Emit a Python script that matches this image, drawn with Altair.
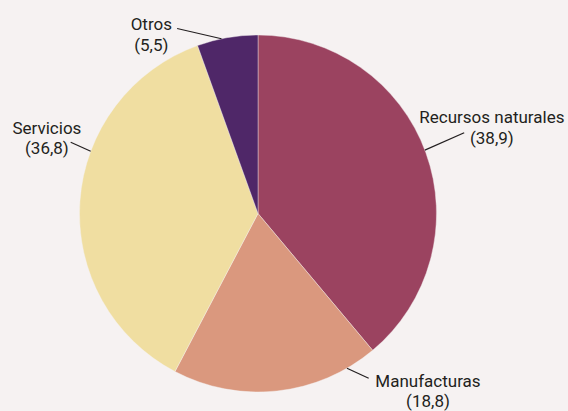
import altair as alt
import pandas as pd
import math
from altair.utils.html import TEMPLATES

# ---- data ----
categories = ["Recursos naturales", "Manufacturas", "Servicios", "Otros"]
shares = [38.9, 18.8, 36.8, 5.5]
share_labels = ["(38,9)", "(18,8)", "(36,8)", "(5,5)"]
colors = ["#9b4360", "#da987e", "#f0dea1", "#4f2768"]
BG = "#f6f2f2"

# ---- layout (annotation placement, not data) ----
W, H = 568, 411
CX, CY, R = 258, 213.5, 178.5          # pie centre and radius in px
leader_deg = [69.2, 150.1, 290.4, 348.2]   # where each leader touches the rim
leader_dx = [39.3, 21.7, -20.0, -44.4]     # leader length/direction, px
leader_dy = [-17.3, 10.0, -9.0, -10.3]
text_dx = [27.7, 59.3, -23.8, -25.8]       # label centre from leader end, px
text_dy = [-9.7, 8.3, -8.4, 1.7]

pie_df = pd.DataFrame({"cat": categories, "value": shares,
                       "idx": list(range(len(categories)))})

rows = []
for i, c in enumerate(categories):
    a = math.radians(leader_deg[i])
    x0, y0 = math.sin(a), math.cos(a)
    x1, y1 = x0 + leader_dx[i] / R, y0 - leader_dy[i] / R
    tx, ty = x1 + text_dx[i] / R, y1 - text_dy[i] / R
    rows.append({"cat": c, "x0": x0, "y0": y0, "x1": x1, "y1": y1,
                 "tx": tx, "ty": ty, "label": c + "\n" + share_labels[i]})
lab_df = pd.DataFrame(rows)

xs = alt.Scale(domain=[-CX / R, (W - CX) / R], nice=False, zero=False)
ys = alt.Scale(domain=[-(H - CY) / R, CY / R], nice=False, zero=False)

FONT = "Roboto, Liberation Sans, sans-serif"

pie = alt.Chart(pie_df).mark_arc(radius=R, stroke=BG, strokeWidth=0.4).encode(
    theta=alt.Theta("value:Q", stack=True),
    order=alt.Order("idx:Q"),
    color=alt.Color("cat:N", scale=alt.Scale(domain=categories, range=colors), legend=None),
    x=alt.value(CX),
    y=alt.value(CY),
)

leaders = alt.Chart(lab_df).mark_rule(color="#231f20", strokeWidth=1.2).encode(
    x=alt.X("x0:Q", scale=xs, axis=None),
    y=alt.Y("y0:Q", scale=ys, axis=None),
    x2="x1:Q",
    y2="y1:Q",
)

labels = alt.Chart(lab_df).mark_text(
    font=FONT, fontSize=17, lineHeight=20.4, lineBreak="\n",
    align="center", baseline="alphabetic", color="#231f20",
).encode(
    x=alt.X("tx:Q", scale=xs, axis=None),
    y=alt.Y("ty:Q", scale=ys, axis=None),
    text="label:N",
)

chart = alt.layer(pie, leaders, labels).properties(
    width=W, height=H, padding=0, background=BG,
    autosize=alt.AutoSizeParams(type="none"),
).configure_view(stroke=None)


class _BgTemplate:
    """Standard Altair page, full-bleed, with the page background matching the chart."""
    def render(self, **kw):
        html = TEMPLATES["standard"].render(**kw)
        return html.replace(
            "<head>",
            "<head><style>html,body{background:%s;margin:0;padding:0;overflow:hidden;}</style>" % BG, 1)


chart.save("out.html", embed_options={"renderer": "svg", "actions": False},
           template=_BgTemplate())
